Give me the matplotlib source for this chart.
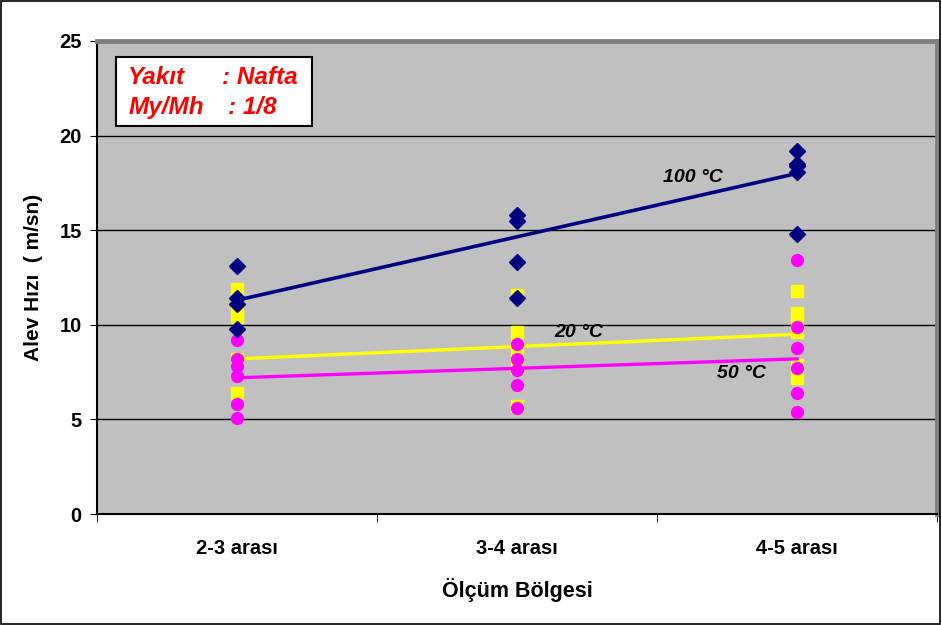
"""
Alev hızı - ölçüm bölgesi grafiği (Nafta, My/Mh = 1/8)
"""

import matplotlib

matplotlib.use("Agg")

import matplotlib.pyplot as plt
from matplotlib.patches import Rectangle

plt.rcParams["font.family"] = ["Liberation Sans", "DejaVu Sans"]

categories = ["2-3 arası", "3-4 arası", "4-5 arası"]

# ölçülen noktalar, her bölge için ayrı liste
temp_20_values = [
    [11.9, 11.3, 10.9, 10.4, 8.2, 6.4],
    [11.6, 9.6, 9.1, 8.4, 7.7, 5.7],
    [11.8, 10.6, 10.2, 9.6, 7.9, 7.2],
]
temp_50_values = [
    [9.2, 8.2, 7.8, 7.3, 5.8, 5.1],
    [9.0, 8.2, 7.6, 6.8, 5.6],
    [13.4, 9.9, 8.8, 7.7, 6.4, 5.4],
]
temp_100_values = [
    [13.1, 11.4, 11.1, 9.8],
    [15.8, 15.5, 13.3, 11.4],
    [19.2, 18.5, 18.4, 18.1, 14.8],
]

# eğilim çizgileri (ilk ve son bölgedeki değer)
trend_20 = [8.2, 9.5]
trend_50 = [7.2, 8.2]
trend_100 = [11.3, 18.0]

series_labels = ["20 °C", "50 °C", "100 °C"]


def scatter_series(ax, values, **style):
    for i, group in enumerate(values):
        ax.plot([i] * len(group), group, linestyle="none", **style)


def main() -> None:
    fig = plt.figure(figsize=(9.42, 6.25), dpi=100)
    ax = fig.add_axes([0.103, 0.1776, 0.8917, 0.7568])
    ax.set_facecolor("#C0C0C0")

    ends = [0, len(categories) - 1]

    scatter_series(ax, temp_20_values, marker="s", markersize=8,
                   color="#FFFF00", zorder=3)
    ax.plot(ends, trend_20, color="#FFFF00", lw=2.4, zorder=4)
    scatter_series(ax, temp_50_values, marker="o", markersize=8.5,
                   color="#FF00FF", zorder=5)
    ax.plot(ends, trend_50, color="#FF00FF", lw=2.4, zorder=6)
    scatter_series(ax, temp_100_values, marker="D", markersize=8,
                   color="#000080", zorder=7)
    ax.plot(ends, trend_100, color="#000080", lw=2.6, zorder=8)

    ax.set_xlim(-0.5, 2.5)
    ax.set_ylim(0, 25)
    ax.set_yticks([0, 5, 10, 15, 20, 25])
    ax.yaxis.grid(True, color="black", lw=1)
    ax.set_axisbelow(True)

    ax.set_xticks(range(len(categories)))
    ax.set_xticklabels(categories, fontsize=14.5, fontweight="bold")
    ax.set_xticks([-0.5, 0.5, 1.5, 2.5], minor=True)
    ax.tick_params(axis="x", which="major", length=0, pad=18)
    ax.tick_params(axis="x", which="minor", length=6, direction="out")
    ax.tick_params(axis="y", length=5, direction="out", pad=6,
                   labelsize=14.5)
    for label in ax.get_yticklabels():
        label.set_fontweight("bold")

    for side in ("top", "right"):
        ax.spines[side].set_color("#808080")
        ax.spines[side].set_linewidth(3.5)
    for side in ("left", "bottom"):
        ax.spines[side].set_color("black")
        ax.spines[side].set_linewidth(1.5)

    ax.set_xlabel("Ölçüm Bölgesi", fontsize=15.5, fontweight="bold",
                  labelpad=14)
    ax.set_ylabel("Alev Hızı  ( m/sn)", fontsize=15, fontweight="bold",
                  labelpad=12)

    # seri etiketleri
    text_style = dict(fontsize=14, fontweight="bold", style="italic",
                      ha="center", va="center", zorder=10)
    ax.text(1.22, 9.57, series_labels[0], **text_style)
    ax.text(1.80, 7.40, series_labels[1], **text_style)
    ax.text(1.63, 17.81, series_labels[2], **text_style)

    # bilgi kutusu
    ax.add_patch(Rectangle((0.0226, 0.820), 0.2334, 0.146,
                           transform=ax.transAxes, facecolor="white",
                           edgecolor="black", lw=1.5, zorder=9))
    box_style = dict(transform=ax.transAxes, color="#FF0000", fontsize=17.5,
                     fontweight="bold", style="italic", va="baseline",
                     zorder=10)
    ax.text(0.037, 0.910, "Yakıt", **box_style)
    ax.text(0.149, 0.910, ": Nafta", **box_style)
    ax.text(0.037, 0.845, "My/Mh", **box_style)
    ax.text(0.156, 0.845, ": 1/8", **box_style)

    fig.patches.append(Rectangle((0.001, 0.002), 0.997, 0.996,
                                 transform=fig.transFigure, fill=False,
                                 edgecolor="black", lw=1.2))

    fig.savefig("out.png", dpi=100)


if __name__ == "__main__":
    main()
